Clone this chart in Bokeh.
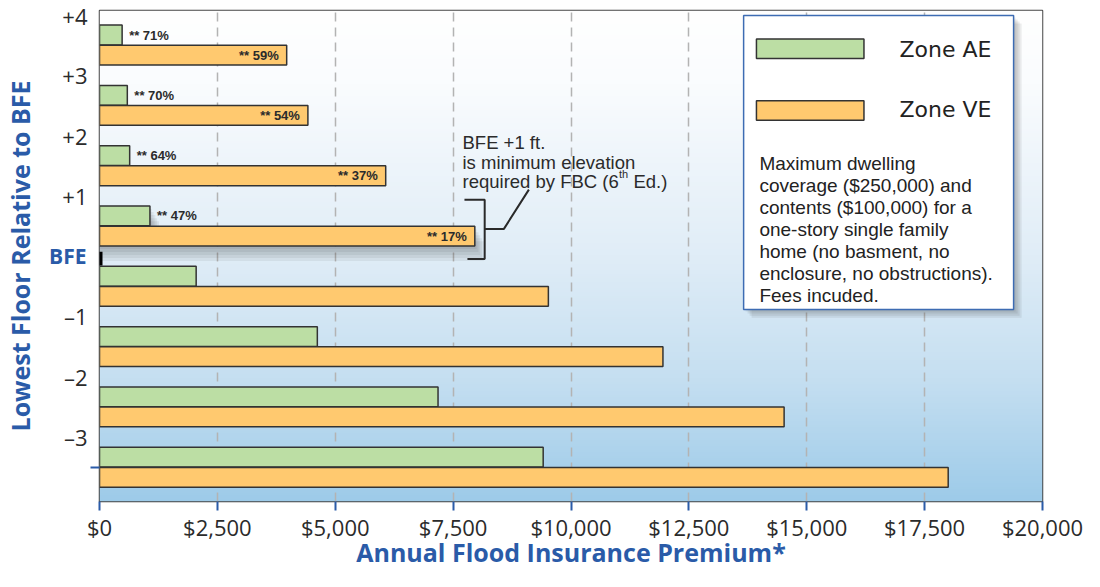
import numpy as np
from bokeh.plotting import figure
from bokeh.models import ColumnDataSource, FixedTicker, LinearAxis, Label, Range1d
from bokeh.core.properties import value
from bokeh.embed import file_html
from bokeh.resources import INLINE

# ---------------- data ----------------
levels = ["+4", "+3", "+2", "+1", "BFE", "–1", "–2", "–3"]
level_pos = [4, 3, 2, 1, 0, -1, -2, -3]
zone_ae = [480, 590, 640, 1070, 2050, 4620, 7180, 9410]
zone_ve = [3970, 4420, 6070, 7960, 9520, 11950, 14520, 18000]
ae_savings = ["** 71%", "** 70%", "** 64%", "** 47%"]
ve_savings = ["** 59%", "** 54%", "** 37%", "** 17%"]
series_names = ["Zone AE", "Zone VE"]
x_ticks = [0, 2500, 5000, 7500, 10000, 12500, 15000, 17500, 20000]
x_tick_labels = ["$0", "$2,500", "$5,000", "$7,500", "$10,000", "$12,500",
                 "$15,000", "$17,500", "$20,000"]
extra_tick = [-3.5]
x_title = "Annual Flood Insurance Premium*"
y_title = "Lowest Floor Relative to BFE"
note_lines = ["Maximum dwelling", "coverage ($250,000) and", "contents ($100,000) for a",
              "one-story single family", "home (no basment, no",
              "enclosure, no obstructions).", "Fees incuded."]
callout_lines = ["BFE +1 ft.", "is minimum elevation", "required by FBC (6"]
callout_sup = "th"
callout_tail = "Ed.)"

# ---------------- styles ----------------
GREEN = "#bcdea4"
ORANGE = "#ffc96f"
BLUE = "#2a5ba8"
EDGE = "#333333"
TXT = "#2b2b2b"

W, H = 1084, 571
ML, MT, MR = 99, 10, 42
FW = W - ML - MR
FH_EST = 488
X0, X1 = 0, 20000
Y0, Y1 = -4.068, 4.073
SX = (X1 - X0) / FW          # data per px (x)
SY = (Y1 - Y0) / FH_EST      # data per px (y)
BFE_W = 41                   # approx. advance width of the bold "BFE" tick label


def rx(px):
    return (px - 99) / 47.8 * 1000


def ry(py):
    return 4 - (py - 14.5) / 61.5


p = figure(width=W, height=H, x_range=Range1d(X0, X1), y_range=Range1d(Y0, Y1),
           output_backend="svg", toolbar_location=None,
           min_border_left=ML, min_border_top=MT, min_border_right=MR,
           min_border_bottom=20)
p.background_fill_color = "white"
p.border_fill_color = "white"
p.outline_line_color = "#444444"
p.outline_line_width = 1.5

# ---------------- gradient background ----------------
N = 240
t = 1 - (np.arange(N) + 0.5) / N   # 0 = top, 1 = bottom; row 0 at bottom
stops_t = [0, 0.15, 0.5, 0.75, 1]
R = np.interp(t, stops_t, [255, 250, 224, 197, 157])
G = np.interp(t, stops_t, [255, 252, 237, 223, 203])
B = np.interp(t, stops_t, [255, 254, 247, 241, 233])
img = np.empty((N, 1), dtype=np.uint32)
view = img.view(dtype=np.uint8).reshape((N, 1, 4))
view[:, 0, 0] = R.astype(np.uint8)
view[:, 0, 1] = G.astype(np.uint8)
view[:, 0, 2] = B.astype(np.uint8)
view[:, 0, 3] = 255
bg = p.image_rgba(image=[img], x=X0, y=Y0, dw=X1 - X0, dh=Y1 - Y0)
bg.level = "image"

# ---------------- grid ----------------
p.xgrid.ticker = FixedTicker(ticks=x_ticks)
p.xgrid.grid_line_color = "#b3b3b3"
p.xgrid.grid_line_dash = "9 6"
p.xgrid.grid_line_width = 1.5
p.ygrid.visible = False

# ---------------- bars ----------------
bar_h = 0.328
ae_y = [v - 1 / 3 for v in level_pos]
ve_y = [v - 2 / 3 for v in level_pos]

# soft shadow beneath the highlighted +1 row
k = levels.index("+1")
for off in [3, 6, 9, 12, 15]:
    dx, dy = off * 0.6 * SX, off * SY
    p.quad(left=[0, 0], right=[zone_ae[k] + dx, zone_ve[k] + dx],
           top=[ae_y[k] + bar_h / 2 - dy, ve_y[k] + bar_h / 2 - dy],
           bottom=[ae_y[k] - bar_h / 2 - dy, ve_y[k] - bar_h / 2 - dy],
           fill_color="#222222", fill_alpha=0.065, line_color=None)

src_ae = ColumnDataSource(dict(y=ae_y, right=zone_ae))
src_ve = ColumnDataSource(dict(y=ve_y, right=zone_ve))
p.hbar(y="y", right="right", left=0, height=bar_h, source=src_ae,
       fill_color=GREEN, line_color=EDGE, line_width=1.5)
p.hbar(y="y", right="right", left=0, height=bar_h, source=src_ve,
       fill_color=ORANGE, line_color=EDGE, line_width=1.5)

n_lab = len(ae_savings)
p.text(x=zone_ae[:n_lab], y=ae_y[:n_lab], text=ae_savings, x_offset=7,
       text_align="left", text_baseline="middle", text_color=TXT,
       text_font=value("Liberation Sans"), text_font_style="bold",
       text_font_size="13px")
p.text(x=zone_ve[:n_lab], y=ve_y[:n_lab], text=ve_savings, x_offset=-8,
       text_align="right", text_baseline="middle", text_color=TXT,
       text_font=value("Liberation Sans"), text_font_style="bold",
       text_font_size="13px")

# BFE marker on the frame edge
p.segment(x0=[0], x1=[0], y0=[ry(256)], y1=[ry(270)], line_color="black", line_width=6)

# ---------------- callout bracket ----------------
p.line(x=[rx(469), rx(489.5), rx(489.5), rx(472)],
       y=[ry(203), ry(203), ry(263.3), ry(263.3)], line_color="#2a2a2a", line_width=2)
p.line(x=[rx(489.5), rx(509), rx(534.3)], y=[ry(232.7), ry(232.7), ry(192.7)],
       line_color="#2a2a2a", line_width=2)
for i, line in enumerate(callout_lines):
    p.add_layout(Label(x=rx(467), y=ry(145 + i * 19.5), text=line,
                       text_font="Liberation Sans", text_font_size="18.5px",
                       text_color=TXT, text_baseline="alphabetic", text_align="left"))
p.add_layout(Label(x=rx(467), y=ry(184 - 7), x_offset=156.5, text=callout_sup,
                   text_font="Liberation Sans", text_font_size="11px",
                   text_color=TXT, text_baseline="alphabetic", text_align="left"))
p.add_layout(Label(x=rx(467), y=ry(184), x_offset=171, text=callout_tail,
                   text_font="Liberation Sans", text_font_size="18.5px",
                   text_color=TXT, text_baseline="alphabetic", text_align="left"))

# ---------------- legend box ----------------
bl, br, bt, bb = rx(752), rx(1025.7), ry(15), ry(315)
for off in [2, 4, 6, 8]:
    p.quad(left=[bl + off * SX], right=[br + off * SX], top=[bt - off * SY],
           bottom=[bb - off * SY], fill_color="#333333", fill_alpha=0.09, line_color=None)
p.quad(left=[bl], right=[br], top=[bt], bottom=[bb], fill_color="white",
       line_color="#3d6cb3", line_width=1.5)
p.quad(left=[rx(765)] * 2, right=[rx(874)] * 2, top=[ry(39), ry(102)],
       bottom=[ry(59), ry(122)], fill_color=[GREEN, ORANGE], line_color=EDGE,
       line_width=1.5)
for name, yc in zip(series_names, [50, 111]):
    p.add_layout(Label(x=rx(910), y=ry(yc), text=name, text_font="DejaVu Sans",
                       text_font_size="22px", text_color="#222222",
                       text_baseline="middle", text_align="left"))
for i, line in enumerate(note_lines):
    p.add_layout(Label(x=rx(768), y=ry(165.7 + i * 22.5), text=line,
                       text_font="Liberation Sans", text_font_size="19px",
                       text_color="#222222", text_baseline="alphabetic",
                       text_align="left"))

# ---------------- axes ----------------
xa = p.xaxis[0]
xa.ticker = FixedTicker(ticks=x_ticks)
xa.major_label_overrides = dict(zip(x_ticks, x_tick_labels))
xa.major_tick_out = 9
xa.major_tick_in = 0
xa.major_tick_line_color = BLUE
xa.major_tick_line_width = 2
xa.minor_tick_line_color = None
xa.axis_line_color = None
xa.major_label_standoff = 1
xa.major_label_text_font = "Open Sans"
xa.major_label_text_font_size = "22px"
xa.major_label_text_color = TXT
xa.axis_label = x_title
xa.axis_label_text_font = "Open Sans"
xa.axis_label_text_font_style = "bold"
xa.axis_label_text_font_size = "25px"
xa.axis_label_text_color = BLUE
xa.axis_label_standoff = -10


def plain_axis(ax):
    ax.major_tick_in = 0
    ax.minor_tick_line_color = None
    ax.minor_tick_out = 0
    ax.axis_line_color = None


# innermost: the single blue tick mark
ta = p.yaxis[0]
ta.ticker = FixedTicker(ticks=extra_tick)
ta.major_label_overrides = {extra_tick[0]: ""}
plain_axis(ta)
ta.major_tick_out = 9
ta.major_tick_line_color = BLUE
ta.major_tick_line_width = 2
ta.major_label_standoff = 0
ta.major_label_text_font_size = "1px"

# middle: the bold blue "BFE" label
bfe_pos = level_pos[levels.index("BFE")]
ba = LinearAxis(ticker=FixedTicker(ticks=[bfe_pos]),
                major_label_overrides={bfe_pos: "BFE"})
plain_axis(ba)
ba.major_tick_out = 0
ba.major_tick_line_color = None
ba.major_label_standoff = 4
ba.major_label_text_font = "Open Sans"
ba.major_label_text_font_style = "bold"
ba.major_label_text_font_size = "21px"
ba.major_label_text_color = BLUE
p.add_layout(ba, "left")

# outer: the numeric levels (pulled back over the BFE column) and the title
num_pos = [v for v, lab in zip(level_pos, levels) if lab != "BFE"]
num_lab = [lab for lab in levels if lab != "BFE"]
la = LinearAxis(ticker=FixedTicker(ticks=num_pos),
                major_label_overrides=dict(zip(num_pos, num_lab)))
plain_axis(la)
la.major_tick_out = 0
la.major_tick_line_color = None
la.major_label_standoff = 4 - (4 + BFE_W)
la.major_label_text_font = "Open Sans"
la.major_label_text_font_size = "22px"
la.major_label_text_color = TXT
la.axis_label = y_title
la.axis_label_text_font = "Open Sans"
la.axis_label_text_font_style = "bold"
la.axis_label_text_font_size = "25px"
la.axis_label_text_color = BLUE
la.axis_label_standoff = 22
p.add_layout(la, "left")

open("out.html", "w").write(file_html(p, INLINE))
